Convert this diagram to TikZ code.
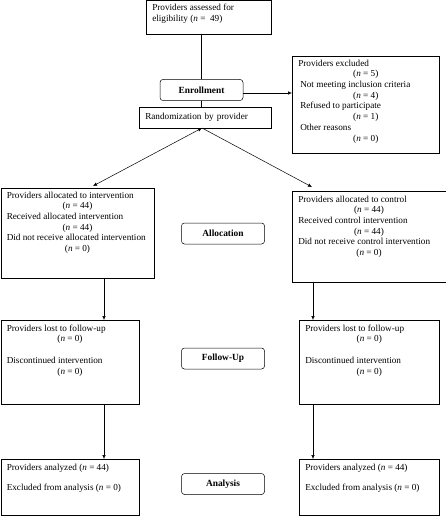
\documentclass[tikz,border=0pt]{standalone}
\usepackage{fontspec}
\setmainfont{Liberation Serif}
\usepackage{tikz}
\usetikzlibrary{positioning,arrows.meta}
\setlength{\parindent}{0pt}

% fixed size text block, text set from the top
\newcommand{\boxtxt}[3]{\parbox[c][#2][t]{#1}{#3}}
% centred count line
\newcommand{\nval}[1]{\centerline{(\textit{n} = #1)}}

\tikzset{
  box/.style={draw, line width=0.5pt, anchor=north west, inner xsep=6pt, inner ysep=3.5pt,
    font=\fontsize{9.2}{10.7}\selectfont},
  stage/.style={draw, line width=0.5pt, rounded corners=3pt, minimum width=83pt,
    minimum height=21pt, inner sep=0pt, font=\fontsize{9.4}{10.7}\selectfont\bfseries},
}

\begin{document}
\begin{tikzpicture}[x=1pt, y=-1pt, >={Latex[length=4pt,width=3.5pt]}, line width=0.5pt]
\useasboundingbox (0,0) rectangle (446,516);

% enrollment part
\node[box] (assess) at (146,0.5) {\boxtxt{113pt}{27pt}{Providers assessed for\\ eligibility (\textit{n} =\ \ 49)}};
\node[stage] (enroll) at (201.5,90) {Enrollment};
\node[box, minimum width=132pt, minimum height=21pt, text width=120pt, align=left] (rand) at (139,107) {Randomization by provider};
\node[box] (excl) at (292,56) {\boxtxt{135pt}{90pt}{Providers excluded\par\nval{5}
  \hspace*{2pt}Not meeting inclusion criteria\par\nval{4}
  \hspace*{2pt}Refused to participate\par\nval{1}
  \hspace*{2pt}Other reasons\par\nval{0}}};

% stage labels (middle)
\node[stage] (alloc) at (223,233.5) {Allocation};
\node[stage] (follow) at (223,358.5) {Follow-Up};
\node[stage] (analysis) at (223,484) {Analysis};

% intervention arm (left)
\node[box] (allocL) at (0.5,188) {\boxtxt{141.5pt}{83pt}{Providers allocated to intervention\par\nval{44}
  Received allocated intervention\par\nval{44}
  Did not receive allocated intervention\par\nval{0}}};
\node[box] (followL) at (0.5,320) {\boxtxt{126.5pt}{77pt}{\vspace{1pt}Providers lost to follow-up\par\nval{0}
  \vspace{10.7pt}Discontinued intervention\par\nval{0}}};
\node[box] (analysisL) at (0.5,459) {\boxtxt{126.5pt}{49pt}{\vspace{1pt}Providers analyzed (\textit{n} = 44)\par
  \vspace{10pt}Excluded from analysis (\textit{n} = 0)}};

% control arm (right)
\node[box] (allocR) at (292,191) {\boxtxt{141.5pt}{84pt}{\vspace{1pt}Providers allocated to control\par\nval{44}
  Received control intervention\par\nval{44}
  Did not receive control intervention\par\nval{0}}};
\node[box] (followR) at (299,320) {\boxtxt{128pt}{77pt}{\vspace{1pt}Providers lost to follow-up\par\nval{0}
  \vspace{10.7pt}Discontinued intervention\par\nval{0}}};
\node[box] (analysisR) at (299,459) {\boxtxt{128pt}{49pt}{\vspace{1pt}Providers analyzed (\textit{n} = 44)\par
  \vspace{10pt}Excluded from analysis (\textit{n} = 0)}};

% helper coordinates
\coordinate (split) at (202,128);
\coordinate (inL) at (93,186);
\coordinate (inR) at (312,187);
\coordinate (colL) at (104,0);
\coordinate (colR) at (313,0);

% connectors
\draw (assess.south -| enroll.north) -- (enroll.north);
\draw (enroll.south) -- (enroll.south |- rand.north);
\draw[->] ([yshift=-3pt]enroll.east) -- ([yshift=-3pt]enroll.east -| excl.west);
\draw[<->] (split) -- (inL);
\draw[->] (split) -- (inR);
\draw[->] (allocL.south -| colL) -- (followL.north -| colL);
\draw[->] (allocR.south -| colR) -- (followR.north -| colR);
\draw[->] (followL.south -| colL) -- (analysisL.north -| colL);
\draw[->] (followR.south -| colR) -- (analysisR.north -| colR);
\end{tikzpicture}
\end{document}
